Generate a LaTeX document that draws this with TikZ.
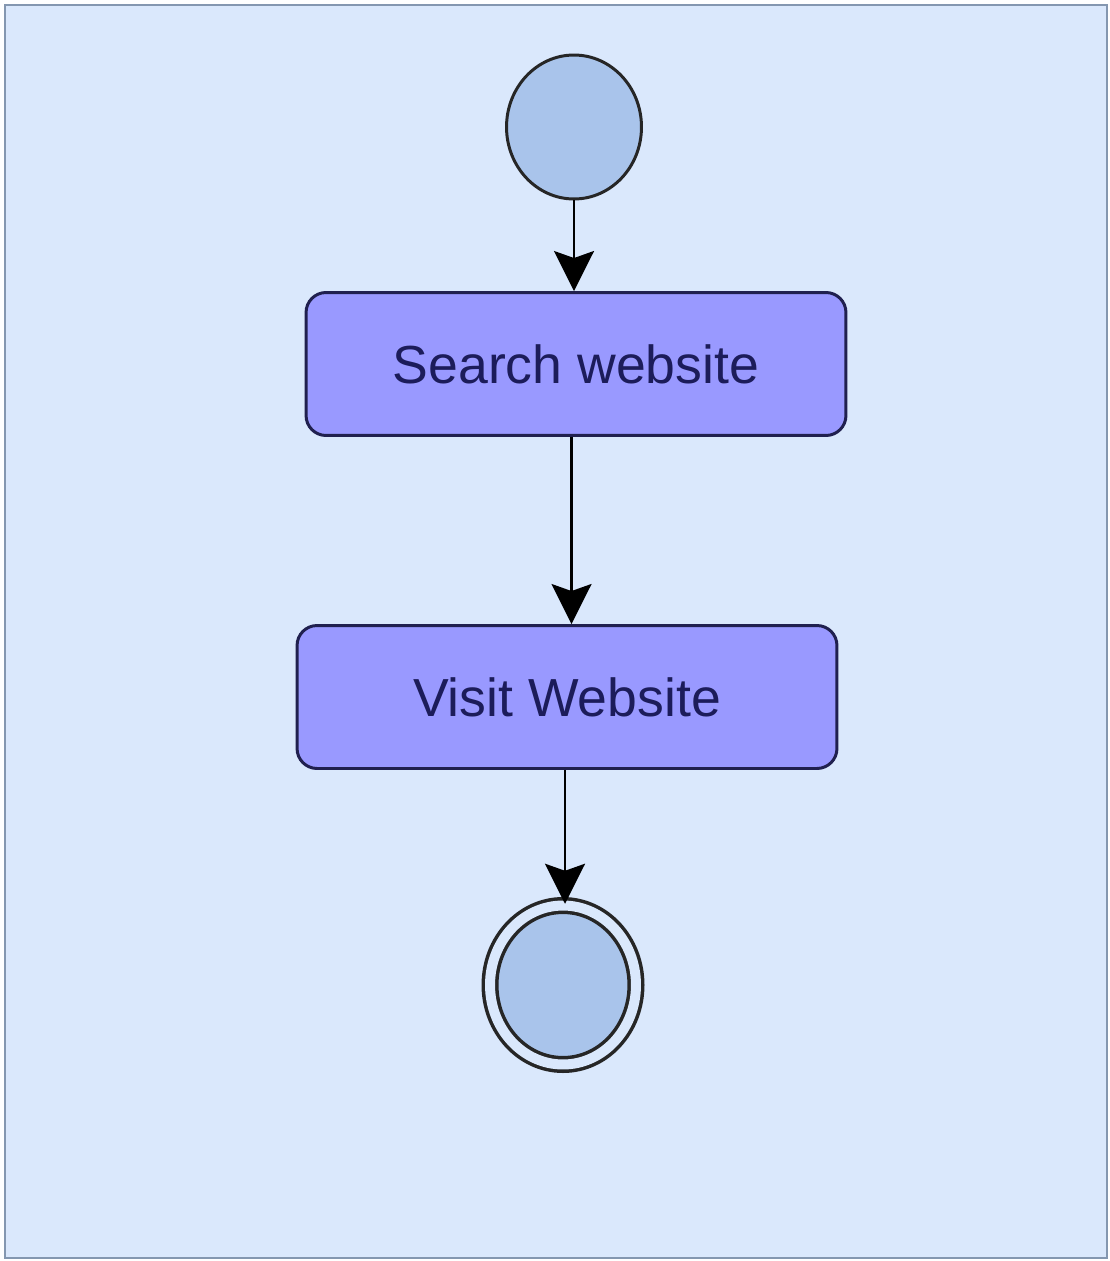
\documentclass[tikz,border=0pt]{standalone}
\usepackage{fontspec}
\setmainfont{Liberation Sans}
\usetikzlibrary{arrows.meta, shapes.geometric, calc}
\definecolor{panelfill}{HTML}{DAE8FC}
\definecolor{panelline}{HTML}{8497B0}
\definecolor{stateblue}{HTML}{A9C4EB}
\definecolor{actfill}{HTML}{9999FF}
\definecolor{actline}{HTML}{20204F}
\definecolor{acttext}{HTML}{1C1C5A}
\begin{document}
\begin{tikzpicture}[x=0.02cm, y=-0.02cm,
  action/.style={draw=actline, fill=actfill, line width=1.7pt, rounded corners=0.4cm,
    minimum width=10.8cm, minimum height=2.86cm, inner sep=0pt, text=acttext,
    font=\fontsize{30.5}{36}\selectfont},
  startstate/.style={ellipse, draw=black!85, fill=stateblue, line width=1.7pt,
    minimum width=2.7cm, minimum height=2.88cm, inner sep=0pt},
  endstate/.style={ellipse, draw=black!85, fill=stateblue, line width=2pt,
    double=panelfill, double distance=0.2cm,
    minimum width=2.92cm, minimum height=3.18cm, inner sep=0pt},
  flow/.style={draw=black, line width=1.5pt,
    -{Stealth[length=0.8cm, width=0.8cm, inset=0.14cm]}}]
  \useasboundingbox (0,0) rectangle (1109,1261);
  % Panel
  \draw[panelline, line width=1.2pt, fill=panelfill] (5,5) rectangle (1107,1258);

  % Start
  \node[startstate] (start) at (574,127) {};

  % Activities
  \node[action] (search) at (576,364) {Search website};
  \node[action] (visit) at (567,697) {Visit Website};

  % End
  \node[endstate] (end) at (563,985) {};

  % Flows
  \coordinate (m1) at ($(search.south)!0.5!(visit.north)$);
  \coordinate (m2) at ($(visit.south)!0.5!(end.north)$);
  \draw[flow] (start.south) -- (start.south |- search.north);
  \draw[flow] (search.south -| m1) -- (visit.north -| m1);
  \draw[flow] (visit.south -| m2) -- (end.north -| m2);
\end{tikzpicture}
\end{document}
